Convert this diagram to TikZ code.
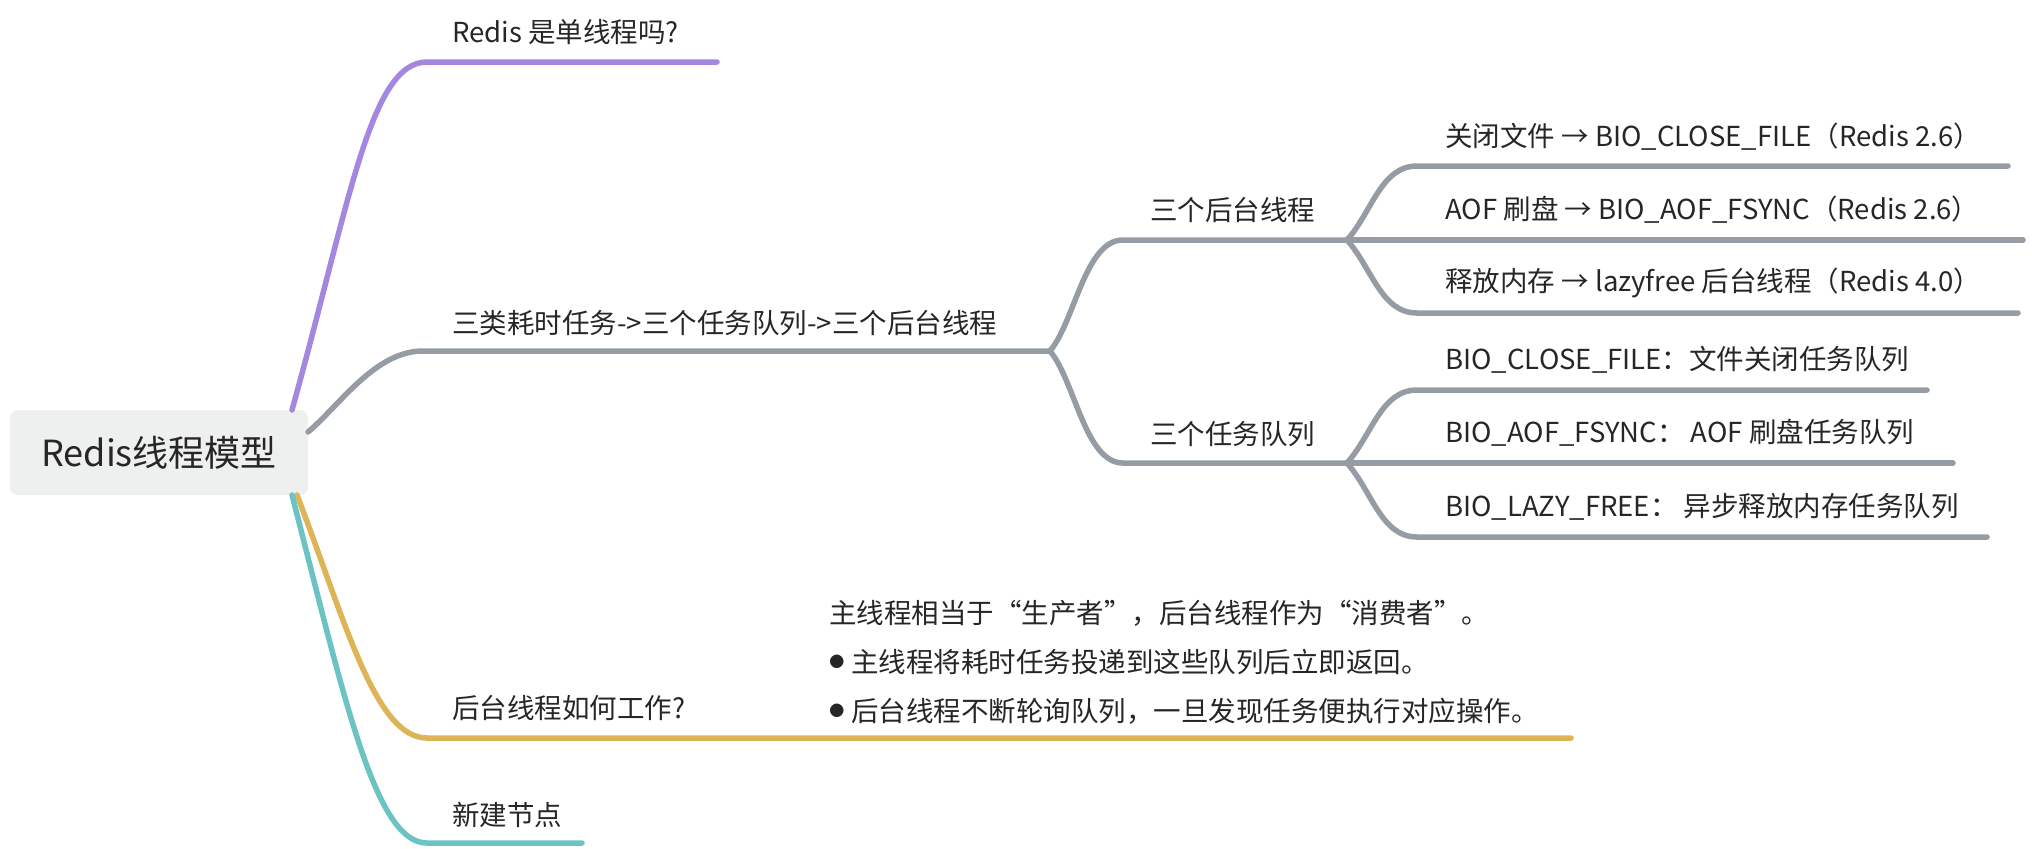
\documentclass[tikz,border=0pt]{standalone}
\usepackage{fontspec}
\setmainfont{Noto Sans CJK SC}
\definecolor{txt}{HTML}{262626}
\definecolor{purp}{HTML}{A487DE}
\definecolor{grayb}{HTML}{969CA4}
\definecolor{goldb}{HTML}{DDB458}
\definecolor{tealb}{HTML}{6CC3C3}
\definecolor{rootfill}{HTML}{EEF0EF}
\newcommand\mmfont{\fontsize{13.75pt}{16pt}\selectfont}
\newcommand\mmbullet{\raisebox{2.4pt}{\fontsize{7.5pt}{9pt}\selectfont ●}\hspace{3.5pt}}
\begin{document}
\begin{tikzpicture}[x=0.5pt,y=-0.5pt,
  topic/.style={anchor=west, inner sep=0pt, font=\mmfont, text=txt},
  br/.style={line width=2.75pt, line cap=round, line join=round}]
\useasboundingbox (0,0) rectangle (2032,848);

% root
\node[draw=none, fill=rootfill, rounded corners=4pt, minimum width=149pt, minimum height=42.5pt,
      inner sep=0pt, font=\fontsize{18pt}{20pt}\selectfont, text=txt] (root) at (159,452.5) {Redis线程模型};

% ---------- purple branch ----------
\coordinate (pu0) at (292,410);
\coordinate (pu1) at (427,62);
\coordinate (pu2) at (717,62);
\node[topic] (pu) at (452,32) {Redis 是单线程吗?};
\draw[br,purp] (pu0) .. controls +(58,-208) and +(-57,0) .. (pu1) -- (pu2);

% ---------- gray branch ----------
\coordinate (g0) at (308,432);
\coordinate (g1) at (423,351);
\coordinate (gf) at (1050,351);
\node[topic] (g) at (452,323) {三类耗时任务->三个任务队列->三个后台线程};
\draw[br,grayb] (g0) .. controls +(32,-27) and +(-48,0) .. (g1) -- (gf);

% level 2
\coordinate (a1) at (1123,240);
\coordinate (af) at (1347,240);
\coordinate (b1) at (1123,463);
\coordinate (bf) at (1347,463);
\node[topic] (a) at (1150,210) {三个后台线程};
\node[topic] (b) at (1150,434) {三个任务队列};
\draw[br,grayb] (gf) .. controls +(25,-30) and +(-38,0) .. (a1) -- (af);
\draw[br,grayb] (gf) .. controls +(25,30) and +(-38,0) .. (b1) -- (bf);

% level 3 under a
\coordinate (a1s) at (1417,166); \coordinate (a1e) at (2008,166);
\coordinate (a2e) at (2023,240);
\coordinate (a3s) at (1417,313); \coordinate (a3e) at (2018,313);
\node[topic] (la1) at (1445,137) {关闭文件 → BIO\_CLOSE\_FILE（Redis 2.6）};
\node[topic] (la2) at (1445,210) {AOF 刷盘 → BIO\_AOF\_FSYNC（Redis 2.6）};
\node[topic] (la3) at (1445,283) {释放内存 → lazyfree 后台线程（Redis 4.0）};
\draw[br,grayb] (af) .. controls +(25,-28) and +(-36,0) .. (a1s) -- (a1e);
\draw[br,grayb] (af) -- (a2e);
\draw[br,grayb] (af) .. controls +(25,28) and +(-36,0) .. (a3s) -- (a3e);

% level 3 under b
\coordinate (b1s) at (1417,390); \coordinate (b1e) at (1927,390);
\coordinate (b2e) at (1953,463);
\coordinate (b3s) at (1417,537); \coordinate (b3e) at (1987,537);
\node[topic] (lb1) at (1445,360) {BIO\_CLOSE\_FILE：文件关闭任务队列};
\node[topic] (lb2) at (1445,433) {BIO\_AOF\_FSYNC： AOF 刷盘任务队列};
\node[topic] (lb3) at (1445,507) {BIO\_LAZY\_FREE： 异步释放内存任务队列};
\draw[br,grayb] (bf) .. controls +(25,-28) and +(-36,0) .. (b1s) -- (b1e);
\draw[br,grayb] (bf) -- (b2e);
\draw[br,grayb] (bf) .. controls +(25,28) and +(-36,0) .. (b3s) -- (b3e);

% ---------- gold branch ----------
\coordinate (o0) at (297,495);
\coordinate (o1) at (427,738);
\coordinate (o2) at (1571,738);
\node[topic] (o) at (452,708) {后台线程如何工作?};
\node[topic, align=left, font=\fontsize{13.75pt}{24.5pt}\selectfont] (od) at (829,662)
  {主线程相当于“生产者”，后台线程作为“消费者”。\\
   \mmbullet 主线程将耗时任务投递到这些队列后立即返回。\\
   \mmbullet 后台线程不断轮询队列，一旦发现任务便执行对应操作。};
\draw[br,goldb] (o0) .. controls +(48,125) and +(-52,0) .. (o1) -- (o2);

% ---------- teal branch ----------
\coordinate (t0) at (292,495);
\coordinate (t1) at (427,843);
\coordinate (t2) at (582,843);
\node[topic] (t) at (452,815) {新建节点};
\draw[br,tealb] (t0) .. controls +(53,205) and +(-52,0) .. (t1) -- (t2);
\end{tikzpicture}
\end{document}
